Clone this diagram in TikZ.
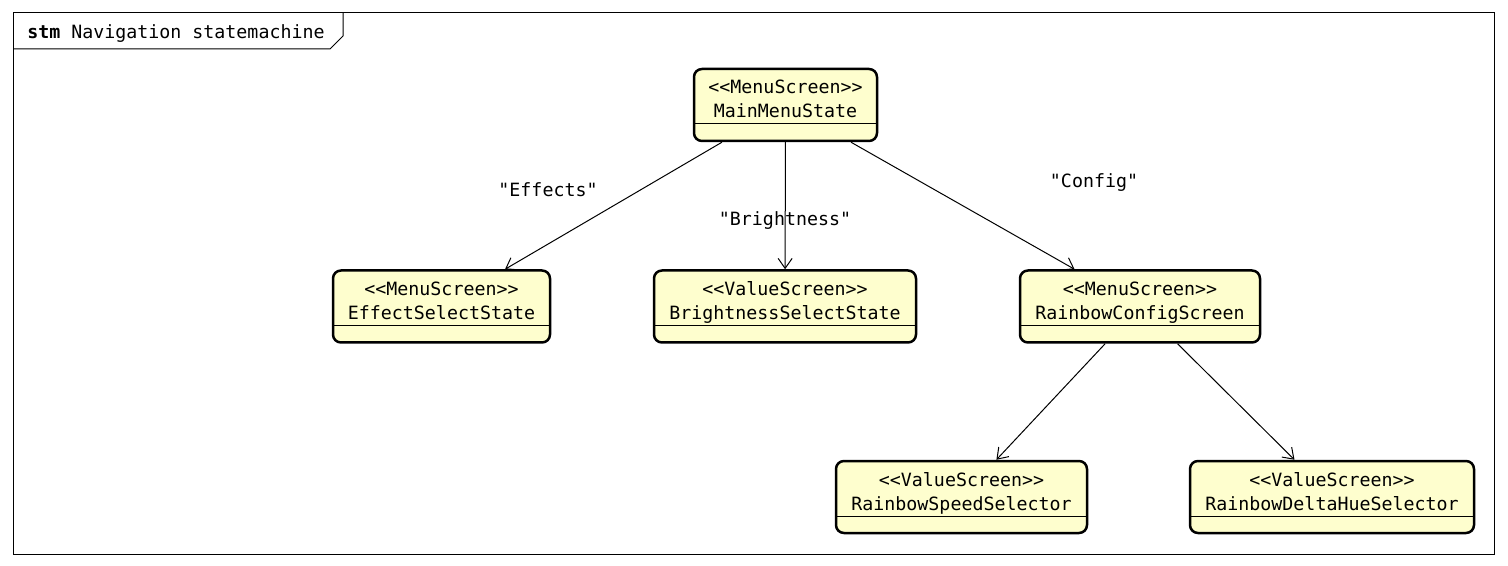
\documentclass[tikz,border=0pt]{standalone}
\usepackage{fontspec}
\setmonofont{DejaVu Sans Mono}
\usetikzlibrary{arrows.meta}
\definecolor{statefill}{HTML}{FEFECE}
\begin{document}
\begin{tikzpicture}[x=0.5pt, y=-0.5pt,
  font=\ttfamily\fontsize{9.14}{12}\selectfont,
  state/.style={draw=black, fill=statefill, line width=1.25pt, rounded corners=4pt,
    inner xsep=0pt, inner ysep=0pt, text height=12.5pt, text depth=23.5pt,
    path picture={\draw[line width=0.5pt, sharp corners]
      ([yshift=8.5pt]path picture bounding box.south west) --
      ([yshift=8.5pt]path picture bounding box.south east);}},
  trans/.style={draw, line width=0.5pt, -{Straight Barb[length=5pt, width=7pt]}},
  lbl/.style={inner sep=0pt}]
\useasboundingbox (0,0) rectangle (1508,566);
\draw[line width=0.5pt] (13,13) rectangle (1494,554);
\draw[line width=0.5pt] (13,49) -- (330,49) -- (343,36) -- (343,13);
\node[lbl, anchor=west] (title) at (27,34) {\textbf{stm} Navigation statemachine};

\node[state, minimum width=91.5pt] (main) at (785.5,105)
  {\begin{tabular}[t]{@{}c@{}}<<MenuScreen>>\\MainMenuState\end{tabular}};
\node[state, minimum width=108.5pt] (effect) at (441.5,306.5)
  {\begin{tabular}[t]{@{}c@{}}<<MenuScreen>>\\EffectSelectState\end{tabular}};
\node[state, minimum width=131pt] (bright) at (785,306.5)
  {\begin{tabular}[t]{@{}c@{}}<<ValueScreen>>\\BrightnessSelectState\end{tabular}};
\node[state, minimum width=120pt] (config) at (1140,306.5)
  {\begin{tabular}[t]{@{}c@{}}<<MenuScreen>>\\RainbowConfigScreen\end{tabular}};
\node[state, minimum width=125.5pt] (speed) at (961.5,497)
  {\begin{tabular}[t]{@{}c@{}}<<ValueScreen>>\\RainbowSpeedSelector\end{tabular}};
\node[state, minimum width=142pt] (delta) at (1332,497)
  {\begin{tabular}[t]{@{}c@{}}<<ValueScreen>>\\RainbowDeltaHueSelector\end{tabular}};

\draw[trans] (main) -- (effect);
\draw[trans] (main) -- (bright);
\draw[trans] (main) -- (config);
\draw[trans] (config) -- (speed);
\draw[trans] (config) -- (delta);

\node[lbl] (effectslbl) at (548,190) {"Effects"};
\node[lbl] (brightlbl) at (785,221) {"Brightness"};
\node[lbl] (configlbl) at (1094,183) {"Config"};
\end{tikzpicture}
\end{document}
